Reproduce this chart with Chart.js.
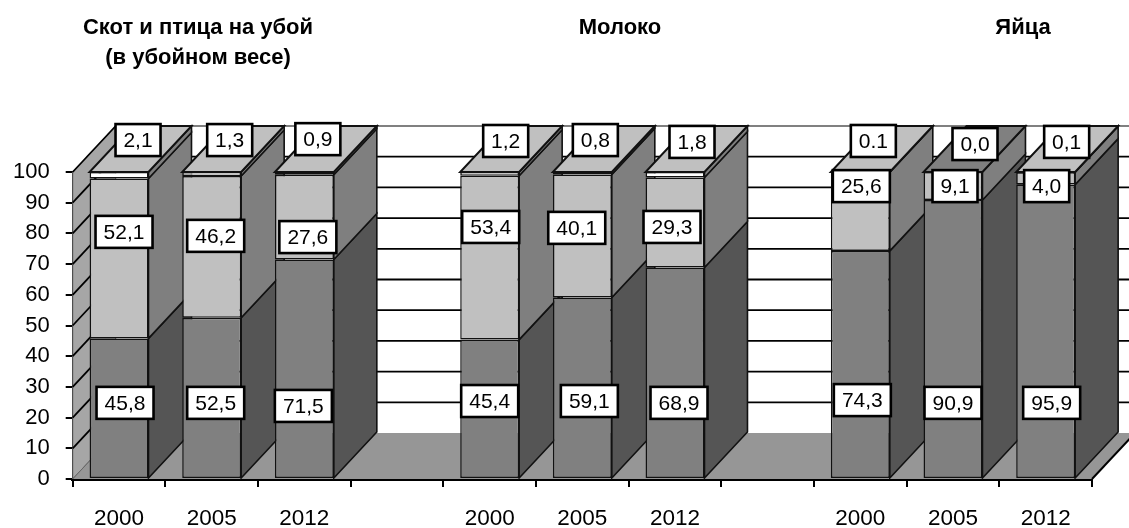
<!DOCTYPE html>
<html>
<head>
<meta charset="utf-8">
<style>
  html, body { margin: 0; padding: 0; background: #fff; }
  canvas { display: block; }
</style>
<script src="https://cdn.jsdelivr.net/npm/chart.js@4/dist/chart.umd.min.js"></script>
</head>
<body>
<canvas id="chart" width="1129" height="528"></canvas>
<script>
// data, blank categories are the gaps between the three groups
const categories = ['2000', '2005', '2012', '', '2000', '2005', '2012', '', '2000', '2005', '2012'];
const bottomValues = [45.8, 52.5, 71.5, null, 45.4, 59.1, 68.9, null, 74.3, 90.9, 95.9];
const middleValues = [52.1, 46.2, 27.6, null, 53.4, 40.1, 29.3, null, 25.6, 9.1, 4.0];
const topValues = [2.1, 1.3, 0.9, null, 1.2, 0.8, 1.8, null, 0.1, 0.0, 0.1];
const bottomLabels = ['45,8', '52,5', '71,5', '', '45,4', '59,1', '68,9', '', '74,3', '90,9', '95,9'];
const middleLabels = ['52,1', '46,2', '27,6', '', '53,4', '40,1', '29,3', '', '25,6', '9,1', '4,0'];
const topLabels = ['2,1', '1,3', '0,9', '', '1,2', '0,8', '1,8', '', '0.1', '0,0', '0,1'];
const groupTitles = [['Скот и птица на убой', '(в убойном весе)'], ['Молоко'], ['Яйца']];

// where the label boxes sit: level on the value axis, and px shift from the bar centre
const bottomLabelLevel = [24.8, 24.8, 23.8, 0, 25.4, 25.4, 24.8, 0, 25.7, 24.8, 24.8];
const middleLabelLevel = [80.5, 79.2, 78.8, 0, 82.1, 81.8, 82.1, 0, 95.4, 95.4, 95.4];
const topLabelLevel = [110.4, 110.4, 110.7, 0, 110.1, 110.4, 109.8, 0, 110.1, 109.1, 109.8];
const bottomLabelShift = [6, 4, -1, 0, 0, 7, 4, 0, 2, 0, 6];
const middleLabelShift = [5, 4, 3.5, 0, 1, -5.6, -3, 0, 1, 2, 1];
const topLabelShift = [19, 18, 13.5, 0, 16, 13, 17, 0, 13, 22, 21];
const titleX = [198, 620, 1023];

const depthX = 43;
const depthY = 46;
const edge = '#111111';
const frontColors = ['#808080', '#c0c0c0', '#ffffff'];
const sideColors = ['#555555', '#7f7f7f', '#7f7f7f'];
const topColors = ['#555555', '#808080', '#c0c0c0'];

function poly(ctx, pts, fill, stroke, width) {
  ctx.beginPath();
  pts.forEach((p, i) => i ? ctx.lineTo(p[0], p[1]) : ctx.moveTo(p[0], p[1]));
  ctx.closePath();
  if (fill) { ctx.fillStyle = fill; ctx.fill(); }
  if (stroke) { ctx.strokeStyle = stroke; ctx.lineWidth = width; ctx.stroke(); }
}

function line(ctx, x1, y1, x2, y2, color, width) {
  ctx.beginPath();
  ctx.moveTo(x1, y1);
  ctx.lineTo(x2, y2);
  ctx.strokeStyle = color;
  ctx.lineWidth = width;
  ctx.stroke();
}

// back wall, left wall, floor and the depth faces of the bars
const box3d = {
  id: 'box3d',
  beforeDatasetsDraw(chart) {
    const ctx = chart.ctx;
    const xs = chart.scales.x;
    const ys = chart.scales.y;
    const y0 = ys.getPixelForValue(0);
    const y100 = ys.getPixelForValue(100);
    ctx.save();
    poly(ctx, [[xs.left, y0], [xs.left + depthX, y0 - depthY], [xs.left + depthX, y100 - depthY], [xs.left, y100]], '#a6a6a6', '#555555', 1);
    poly(ctx, [[xs.left, y0], [xs.right, y0], [xs.right + depthX, y0 - depthY], [xs.left + depthX, y0 - depthY]], '#969696');
    line(ctx, xs.right, y0, xs.right + depthX, y0 - depthY, '#000', 2);
    ys.ticks.forEach(t => {
      const y = ys.getPixelForValue(t.value);
      if (t.value > 0) {
        line(ctx, xs.left, y, xs.left + depthX, y - depthY, '#000', 1.8);
        line(ctx, xs.left + depthX, y - depthY, xs.right + depthX, y - depthY, t.value === 100 ? '#808080' : '#000', t.value === 100 ? 2 : 1.8);
      }
    });
    line(ctx, xs.left, y0, xs.left + depthX, y0 - depthY, '#666666', 1);

    const metas = [0, 1, 2].map(i => chart.getDatasetMeta(i));
    categories.forEach((c, i) => {
      if (bottomValues[i] === null) return;
      const bar = metas[0].data[i];
      const right = bar.x + bar.width / 2;
      const left = bar.x - bar.width / 2;
      let topIdx = 0;
      chart.data.datasets.forEach((d, s) => {
        if (d.data[i] > 0) {
          const el = metas[s].data[i];
          topIdx = s;
          poly(ctx, [[right, el.base], [right, el.y], [right + depthX, el.y - depthY], [right + depthX, el.base - depthY]], sideColors[s], edge, 1.6);
        }
      });
      const yTop = metas[topIdx].data[i].y;
      poly(ctx, [[left, yTop], [right, yTop], [right + depthX, yTop - depthY], [left + depthX, yTop - depthY]], topColors[topIdx], edge, 2);
    });
    ctx.restore();
  },
  afterDatasetsDraw(chart) {
    const ctx = chart.ctx;
    const ys = chart.scales.y;
    const bars = chart.getDatasetMeta(0).data;
    const rows = [
      [bottomLabels, bottomLabelLevel, bottomLabelShift],
      [middleLabels, middleLabelLevel, middleLabelShift],
      [topLabels, topLabelLevel, topLabelShift]
    ];
    ctx.save();
    ctx.font = '21px "Liberation Sans"';
    ctx.textAlign = 'center';
    ctx.textBaseline = 'middle';
    rows.forEach(([labels, levels, shifts]) => {
      labels.forEach((text, i) => {
        if (!text) return;
        const cx = bars[i].x + shifts[i];
        const cy = ys.getPixelForValue(levels[i]);
        const w = text.length > 3 ? 57 : 45;
        ctx.fillStyle = '#fff';
        ctx.fillRect(cx - w / 2, cy - 16, w, 32);
        ctx.strokeStyle = '#000';
        ctx.lineWidth = 2.6;
        ctx.strokeRect(cx - w / 2, cy - 16, w, 32);
        ctx.fillStyle = '#000';
        ctx.fillText(text, cx, cy + 1);
      });
    });
    ctx.font = 'bold 22px "Liberation Sans"';
    groupTitles.forEach((title, g) => {
      title.forEach((text, n) => ctx.fillText(text, titleX[g], 28 + n * 30));
    });
    ctx.restore();
  }
};

new Chart(document.getElementById('chart'), {
  type: 'bar',
  data: {
    labels: categories,
    datasets: [
      { data: bottomValues, backgroundColor: frontColors[0] },
      { data: middleValues, backgroundColor: frontColors[1] },
      { data: topValues, backgroundColor: frontColors[2] }
    ].map(d => Object.assign(d, {
      borderColor: edge,
      borderWidth: 1.5,
      borderSkipped: false,
      categoryPercentage: 1,
      barPercentage: 0.636
    }))
  },
  plugins: [box3d],
  options: {
    responsive: false,
    animation: false,
    layout: { padding: { top: 172, right: 37 } },
    plugins: { legend: { display: false }, title: { display: false }, tooltip: { enabled: false } },
    scales: {
      x: {
        stacked: true,
        afterFit(scale) { scale.height = 49; },
        border: { color: '#000', width: 3 },
        grid: { offset: true, drawOnChartArea: false, color: '#000', lineWidth: 2, tickLength: 8 },
        ticks: {
          autoSkip: false, maxRotation: 0, color: '#000', padding: 18,
          font: { family: 'Liberation Sans', size: 22.5 }
        }
      },
      y: {
        stacked: true,
        min: 0,
        max: 100,
        afterFit(scale) { scale.width = 72.7; },
        border: { color: '#000', width: 2 },
        grid: { drawOnChartArea: false, color: '#000', lineWidth: 2, tickLength: 7 },
        ticks: {
          stepSize: 10, color: '#000', padding: 16,
          font: { family: 'Liberation Sans', size: 22 }
        }
      }
    }
  }
});
</script>
</body>
</html>
